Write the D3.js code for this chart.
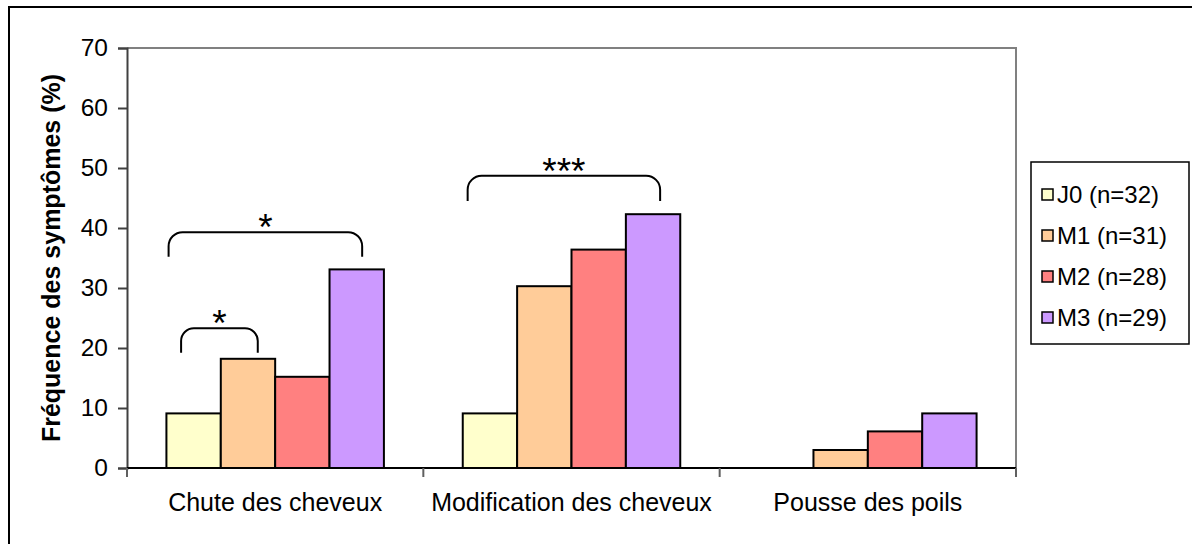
<!DOCTYPE html>
<html><head><meta charset="utf-8">
<script src="https://cdn.jsdelivr.net/npm/d3@7"></script>
<style>
body{margin:0;background:#fff;}
text{font-family:"Liberation Sans",Arial,sans-serif;fill:#000;}
</style></head>
<body><svg id="c" width="1192" height="544"></svg>
<script>
const categories = ["Chute des cheveux","Modification des cheveux","Pousse des poils"];
const series = ["J0 (n=32)","M1 (n=31)","M2 (n=28)","M3 (n=29)"];
const J0 = [9.1, 9.1, 0];
const M1 = [18.2, 30.3, 3.0];
const M2 = [15.2, 36.4, 6.1];
const M3 = [33.1, 42.3, 9.1];
const yTicks = [0,10,20,30,40,50,60,70];
const yLabel = "Fréquence des symptômes (%)";
const colors = ["#FFFFCC","#FFCC99","#FF8080","#CC99FF"];
// significance brackets: category, from series idx, to series idx, offsets within bar, top value, bottom value, label
const brackets = [
  {cat:0, s0:0, f0:0.27, s1:1, f1:0.68, top:23.3, bottom:19.2, label:"*"},
  {cat:0, s0:0, f0:0.04, s1:3, f1:0.60, top:39.3, bottom:35.2, label:"*"},
  {cat:1, s0:0, f0:0.09, s1:3, f1:0.63, top:48.7, bottom:44.5, label:"***"}
];

const values = [J0, M1, M2, M3];
const svg = d3.select("#c");
const L = 127, R = 1016, T = 48, B = 468;

// outer frame
svg.append("rect").attr("x",9).attr("y",7).attr("width",1200).attr("height",560)
  .attr("fill","none").attr("stroke","#000").attr("stroke-width",2);

const x0 = d3.scaleBand().domain(categories).range([L,R]).padding(0);
const x1 = d3.scaleBand().domain(series).range([0,x0.bandwidth()]).paddingInner(0).paddingOuter(0.725);
const y = d3.scaleLinear().domain([0,70]).range([B,T]);

// plot frame top/right
svg.append("path").attr("d",`M${L},${T}H${R}V${B}`).attr("fill","none").attr("stroke","#808080").attr("stroke-width",2);

// y axis
const ya = svg.append("g").attr("transform",`translate(${L},0)`)
  .call(d3.axisLeft(y).tickValues(yTicks).tickSize(9).tickPadding(10).tickFormat(d3.format("d")));
ya.select(".domain").attr("stroke","#404040").attr("stroke-width",2);
ya.selectAll(".tick line").attr("stroke","#404040").attr("stroke-width",2);
ya.selectAll(".tick text").attr("font-size",24.5).attr("font-family","Liberation Sans, Arial, sans-serif").attr("fill","#000");

// bars
categories.forEach((c,ci)=>{
  series.forEach((s,si)=>{
    const v = values[si][ci];
    if(v<=0) return;
    svg.append("rect")
      .attr("x", x0(c)+x1(s))
      .attr("y", y(v))
      .attr("width", x1.bandwidth())
      .attr("height", y(0)-y(v))
      .attr("fill", colors[si]).attr("stroke","#000").attr("stroke-width",2);
  });
});

// x axis line
svg.append("line").attr("x1",L).attr("x2",R).attr("y1",y(0)).attr("y2",y(0)).attr("stroke","#000").attr("stroke-width",2);
const bounds = categories.map(c=>x0(c)).concat([x0(categories[categories.length-1])+x0.bandwidth()]);
svg.selectAll(".xt").data(bounds).enter().append("line")
  .attr("x1",d=>d).attr("x2",d=>d).attr("y1",y(0)).attr("y2",y(0)+9)
  .attr("stroke","#606060").attr("stroke-width",2);
svg.selectAll(".xl").data(categories).enter().append("text")
  .attr("x",d=>x0(d)+x0.bandwidth()/2).attr("y",511)
  .attr("text-anchor","middle").attr("font-size",25).text(d=>d);

// y label
svg.append("text").attr("transform","translate(60,258) rotate(-90)")
  .attr("text-anchor","middle").attr("font-size",25).attr("font-weight","bold").text(yLabel);

// brackets
brackets.forEach(b=>{
  const c = categories[b.cat];
  const xa = x0(c)+x1(series[b.s0])+b.f0*x1.bandwidth();
  const xb = x0(c)+x1(series[b.s1])+b.f1*x1.bandwidth();
  const yt = y(b.top), yb = y(b.bottom);
  const r = Math.min(14, (xb-xa)/6);
  const p = d3.path();
  p.moveTo(xa,yb);
  p.lineTo(xa,yt+r);
  p.arcTo(xa,yt,xa+r,yt,r);
  p.lineTo(xb-r,yt);
  p.arcTo(xb,yt,xb,yt+r,r);
  p.lineTo(xb,yb);
  svg.append("path").attr("d",p.toString()).attr("fill","none").attr("stroke","#000").attr("stroke-width",2);
  svg.append("text").attr("x",(xa+xb)/2).attr("y",yt+8)
    .attr("text-anchor","middle").attr("font-family","Liberation Serif, Times New Roman, serif")
    .attr("font-size",37).attr("fill","#222").text(b.label);
});

// legend
const lg = svg.append("g");
lg.append("rect").attr("x",1031).attr("y",162).attr("width",158).attr("height",182)
  .attr("fill","#fff").attr("stroke","#000").attr("stroke-width",1.5);
series.forEach((s,i)=>{
  const cy = 194 + i*41;
  lg.append("rect").attr("x",1042).attr("y",cy-5).attr("width",11).attr("height",11)
    .attr("fill",colors[i]).attr("stroke","#000").attr("stroke-width",1.5);
  lg.append("text").attr("x",1057).attr("y",cy+8.5).attr("font-size",24).text(s);
});
</script></body></html>
